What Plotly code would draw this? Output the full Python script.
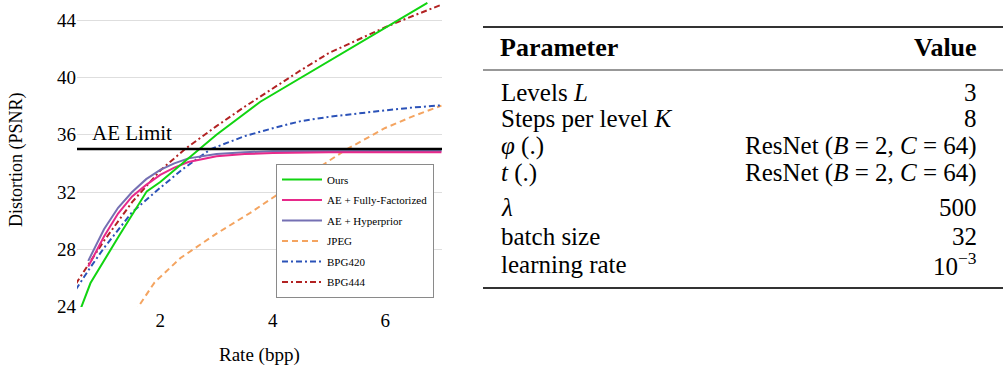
import plotly.graph_objects as go

W, H = 1003, 369
FONT = "Liberation Serif, Times New Roman, serif"

# ---------------- data ----------------
ours_x = [0.58, 0.76, 1.26, 1.76, 2.0, 2.71, 3.0, 3.78, 6.75]
ours_y = [23.8, 25.65, 28.9, 32.05, 32.7, 35.0, 36.0, 38.3, 45.2]

ff_x = [0.72, 1.0, 1.25, 1.5, 1.75, 2.0, 2.25, 2.5, 3.0, 3.5, 4.0, 5.0, 6.0, 7.0]
ff_y = [26.8, 28.9, 30.5, 31.7, 32.5, 33.2, 33.7, 34.1, 34.5, 34.65, 34.72, 34.78, 34.78, 34.78]

hyp_x = [0.72, 1.0, 1.25, 1.5, 1.75, 2.0, 2.25, 2.5, 3.0, 3.5, 4.0, 5.0, 6.0, 7.0]
hyp_y = [27.2, 29.4, 30.9, 32.0, 32.9, 33.55, 34.0, 34.35, 34.65, 34.78, 34.84, 34.87, 34.87, 34.87]

jpeg_x = [1.55, 1.61, 1.9, 2.36, 3.0, 3.6, 4.0, 4.5, 5.0, 5.3, 6.0, 6.5, 7.0]
jpeg_y = [23.6, 24.0, 25.7, 27.4, 29.1, 30.55, 31.6, 32.9, 34.2, 34.95, 36.47, 37.3, 38.03]

bpg420_x = [0.5, 0.75, 1.0, 1.5, 2.0, 2.4, 2.9, 3.5, 4.0, 4.5, 5.0, 5.5, 6.0, 6.5, 7.0]
bpg420_y = [25.2, 26.7, 28.1, 30.6, 32.3, 33.6, 35.0, 35.9, 36.45, 36.95, 37.25, 37.5, 37.7, 37.9, 38.05]

bpg444_x = [0.5, 0.75, 1.0, 1.5, 2.0, 2.44, 2.71, 3.0, 3.5, 4.0, 4.5, 5.0, 5.5, 6.0, 6.5, 7.0]
bpg444_y = [25.6, 27.1, 28.6, 31.3, 33.5, 35.0, 35.8, 36.6, 37.95, 39.25, 40.5, 41.7, 42.6, 43.5, 44.3, 45.07]

ae_limit = 35.0

x_ticks = [2, 4, 6]
y_ticks = [24, 28, 32, 36, 40, 44]

param_names = ["Levels <i>L</i>", "Steps per level <i>K</i>", "<i>φ</i> (.)", "<i>t</i> (.)",
               "<i>λ</i>", "batch size", "learning rate"]
param_values = ["3", "8", "ResNet (<i>B</i> = 2, <i>C</i> = 64)", "ResNet (<i>B</i> = 2, <i>C</i> = 64)",
                "500", "32", "10<sup>−3</sup>"]


def px(xp):
    return xp / W


def py(yp):
    return 1 - yp / H


fig = go.Figure()

series = [
    ("JPEG", jpeg_x, jpeg_y, "#f4a460", "6px,4px", 4),
    ("BPG420", bpg420_x, bpg420_y, "#2b52b8", "6px,3px,2px,3px", 5),
    ("BPG444", bpg444_x, bpg444_y, "#b22222", "6px,3px,2px,3px", 6),
    ("AE + Hyperprior", hyp_x, hyp_y, "#7570b3", "solid", 3),
    ("AE + Fully-Factorized", ff_x, ff_y, "#e7298a", "solid", 2),
    ("Ours", ours_x, ours_y, "#11d411", "solid", 1),
]
for name, xs, ys, col, dash, rank in series:
    fig.add_trace(go.Scatter(
        x=xs, y=ys, mode="lines", name=name,
        line=dict(color=col, width=2, dash=dash),
        legendrank=rank, legendgroup=name,
    ))

# AE limit line
fig.add_shape(type="line", xref="x domain", yref="y", x0=0, x1=1, y0=ae_limit, y1=ae_limit,
              line=dict(color="black", width=2.6))
fig.add_annotation(xref="paper", yref="paper", x=px(90), y=py(133), text="AE Limit",
                   showarrow=False, xanchor="left", yanchor="middle",
                   font=dict(family=FONT, size=21, color="black"))

# axis titles
fig.add_annotation(xref="paper", yref="paper", x=px(259), y=py(355), text="Rate (bpp)",
                   showarrow=False, xanchor="center", yanchor="middle",
                   font=dict(family=FONT, size=19, color="black"))
fig.add_annotation(xref="paper", yref="paper", x=px(16), y=py(160), text="Distortion (PSNR)",
                   showarrow=False, textangle=-90, xanchor="center", yanchor="middle",
                   font=dict(family=FONT, size=18, color="black"))

# table rules
for yy, wd in [(27, 2), (70, 1.2), (288, 2)]:
    fig.add_shape(type="line", xref="paper", yref="paper", x0=px(483), x1=1.0,
                  y0=py(yy), y1=py(yy), line=dict(color="#333333", width=wd))

fig.add_annotation(xref="paper", yref="paper", x=px(498), y=py(47), text="<b>Parameter</b>",
                   showarrow=False, xanchor="left", yanchor="middle",
                   font=dict(family=FONT, size=26, color="black"))
fig.add_annotation(xref="paper", yref="paper", x=px(979), y=py(47), text="<b>Value</b>",
                   showarrow=False, xanchor="right", yanchor="middle",
                   font=dict(family=FONT, size=26, color="black"))

row_y = [92, 119, 146, 173, 207, 236, 264]
for name, val, yy in zip(param_names, param_values, row_y):
    fig.add_annotation(xref="paper", yref="paper", x=px(499), y=py(yy), text=name,
                       showarrow=False, xanchor="left", yanchor="middle",
                       font=dict(family=FONT, size=25, color="black"))
    fig.add_annotation(xref="paper", yref="paper", x=px(979), y=py(yy), text=val,
                       showarrow=False, xanchor="right", yanchor="middle",
                       font=dict(family=FONT, size=25, color="black"))

fig.update_layout(
    width=W, height=H,
    margin=dict(l=0, r=0, t=0, b=0),
    paper_bgcolor="white", plot_bgcolor="white",
    font=dict(family=FONT, color="black"),
    showlegend=True,
    legend=dict(x=px(276), y=py(164), xanchor="left", yanchor="top",
                bgcolor="white", bordercolor="#8a8a8a", borderwidth=1,
                font=dict(family=FONT, size=11, color="black"),
                itemwidth=40, tracegroupgap=1.5, traceorder="grouped"),
    xaxis=dict(domain=[px(77), px(442)], range=[0.52, 7.01], tickvals=x_ticks,
               showgrid=False, zeroline=False, showline=False, ticks="",
               tickfont=dict(family=FONT, size=19, color="black"), automargin=False),
    yaxis=dict(domain=[py(307), 1.0], range=[23.98, 45.4], tickvals=y_ticks,
               showgrid=True, gridcolor="#dedede", gridwidth=1,
               zeroline=False, showline=False, ticks="",
               tickfont=dict(family=FONT, size=19, color="black"), automargin=False),
)

fig.write_html("out.html", config={"displayModeBar": False},
               post_script="document.body.style.margin='0px';")
